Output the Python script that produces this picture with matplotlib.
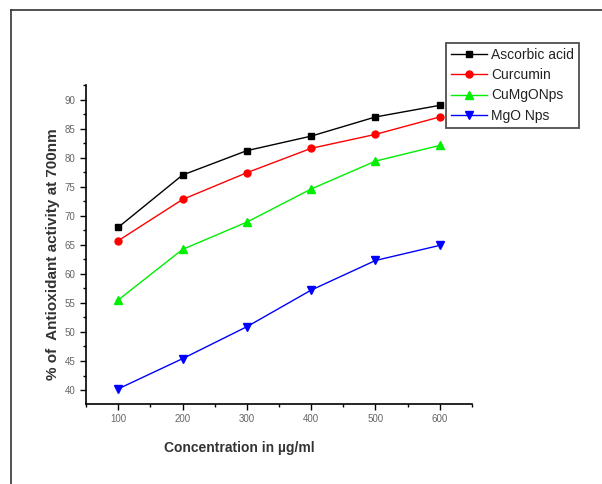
import matplotlib
matplotlib.use("Agg")
import matplotlib.pyplot as plt
from matplotlib.lines import Line2D
from matplotlib.ticker import MultipleLocator

plt.rcParams['font.family'] = ['Liberation Sans', 'DejaVu Sans']

conc = [100, 200, 300, 400, 500, 600]
ascorbic = [68.0, 77.0, 81.2, 83.7, 87.0, 89.0]
curcumin = [65.7, 72.8, 77.4, 81.6, 84.0, 87.0]
cumgo = [55.5, 64.2, 68.9, 74.6, 79.4, 82.1]
mgo = [40.2, 45.4, 50.9, 57.2, 62.3, 64.9]

fig = plt.figure(figsize=(6.02, 4.84), dpi=100)
ax = fig.add_axes([0.1429, 0.1653, 0.6411, 0.6591])

ax.plot(conc, ascorbic, '-s', color='black', lw=1, ms=5, label='Ascorbic acid')
ax.plot(conc, curcumin, '-o', color='red', lw=1, ms=5, label='Curcumin')
ax.plot(conc, cumgo, '-^', color='#00ee00', lw=1, ms=5.5, label='CuMgONps')
ax.plot(conc, mgo, '-v', color='blue', lw=1, ms=5.5, label='MgO Nps')

ax.set_xlim(50, 650)
ax.set_ylim(37.6, 92.5)
ax.xaxis.set_major_locator(MultipleLocator(100))
ax.xaxis.set_minor_locator(MultipleLocator(50))
ax.yaxis.set_major_locator(MultipleLocator(5))
ax.yaxis.set_minor_locator(MultipleLocator(2.5))
ax.tick_params(which='major', direction='out', length=4, width=1, labelsize=7, labelcolor='#666666')
ax.tick_params(which='minor', direction='out', length=2.5, width=1)
ax.spines['top'].set_visible(False)
ax.spines['right'].set_visible(False)
ax.spines['left'].set_linewidth(1.2)
ax.spines['bottom'].set_linewidth(1.2)

ax.set_xlabel('Concentration in µg/ml', fontsize=10, fontweight='bold', color='#333333')
ax.set_ylabel('% of  Antioxidant activity at 700nm', fontsize=11, fontweight='bold', color='#333333')
ax.xaxis.set_label_coords(0.396, -0.116)
ax.yaxis.set_label_coords(-0.068, 0.469)

leg = fig.legend(loc='upper left', bbox_to_anchor=(0.741, 0.911), fontsize=10,
                 frameon=True, fancybox=False, edgecolor='#222222', borderaxespad=0,
                 handlelength=2.6, borderpad=0.35, labelspacing=0.45, handletextpad=0.3)
leg.get_frame().set_linewidth(1.3)
for t in leg.get_texts():
    t.set_color('#222222')

# outer frame (top and left edges only)
fig.add_artist(Line2D([11/602, 1.0], [1 - 10/484, 1 - 10/484], color='#333333', lw=1.2, transform=fig.transFigure))
fig.add_artist(Line2D([11/602, 11/602], [0.0, 1 - 10/484], color='#333333', lw=1.2, transform=fig.transFigure))

fig.savefig('out.png', dpi=100)
